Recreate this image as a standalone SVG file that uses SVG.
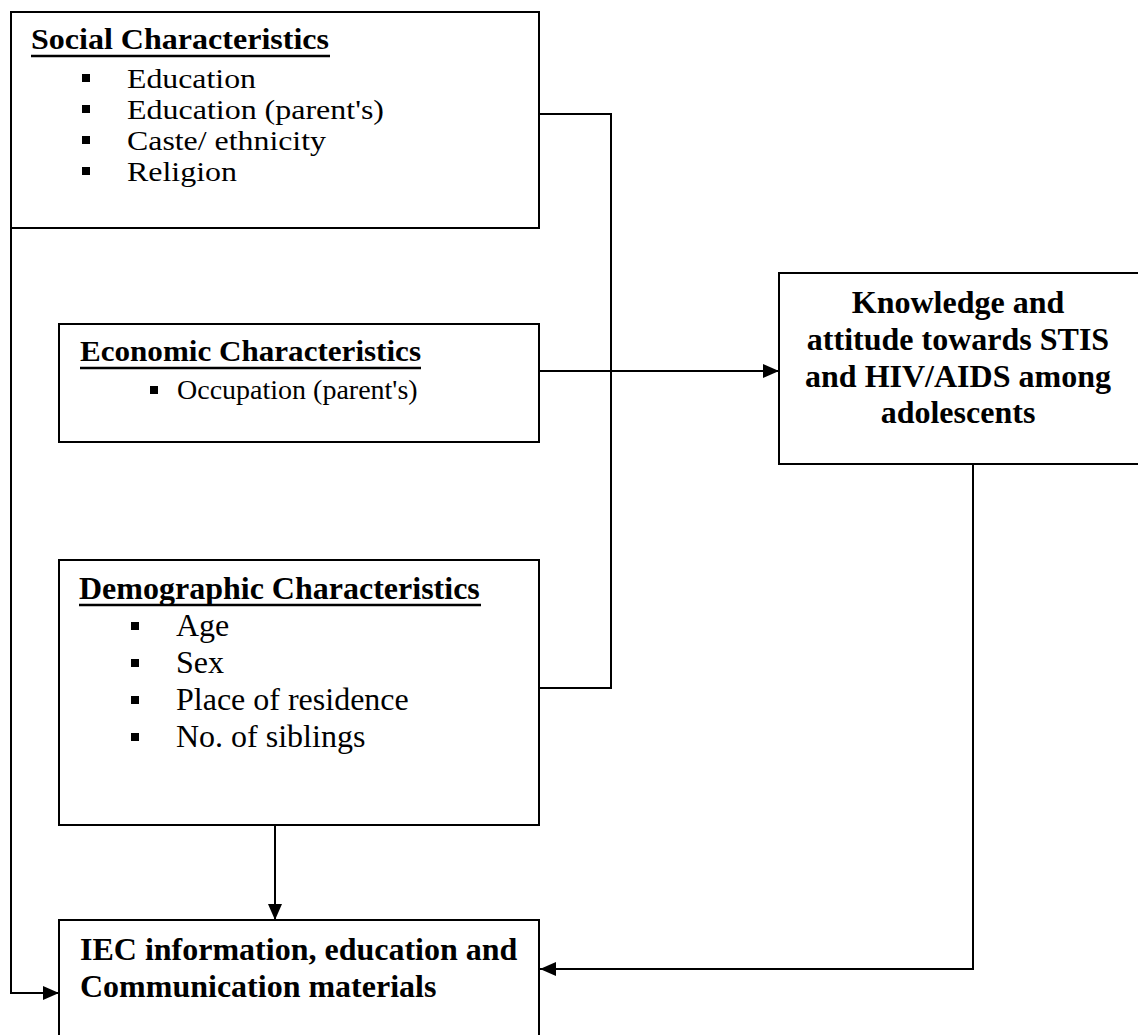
<svg xmlns="http://www.w3.org/2000/svg" width="1138" height="1035" viewBox="0 0 1138 1035">
<defs>
<style>
.box{fill:#fff;stroke:#000;stroke-width:2}
.ln{fill:none;stroke:#000;stroke-width:2}
.t{font-family:"Liberation Serif","Times New Roman",serif;font-size:32px;fill:#000}
.s{font-size:27px}
.m{font-size:28px}
.h{font-size:30px}
.b{font-weight:bold}
.ul{stroke:#000;stroke-width:2.5}
.bul{fill:#000}
</style>
<marker id="arr" viewBox="0 0 16 14" refX="16" refY="7" markerWidth="16" markerHeight="14" markerUnits="userSpaceOnUse" orient="auto">
<path d="M0,0 L16,7 L0,14 z" fill="#000"/>
</marker>
</defs>
<rect width="1138" height="1035" fill="#fff"/>

<g id="connectors">
<path class="ln" d="M539,114 H611 V688 H539"/>
<path class="ln" d="M539,371 H779" marker-end="url(#arr)"/>
<path class="ln" d="M973,464 V969 H540" marker-end="url(#arr)"/>
<path class="ln" d="M275,825 V920" marker-end="url(#arr)"/>
<path class="ln" d="M11,228 V993 H59" marker-end="url(#arr)"/>
</g>

<g id="social">
<rect class="box" x="11" y="12" width="528" height="216"/>
<text class="t h b" x="31" y="49" textLength="298" lengthAdjust="spacingAndGlyphs">Social Characteristics</text>
<line class="ul" x1="31" y1="56" x2="330" y2="56"/>
<rect class="bul" x="82" y="74" width="8" height="8"/>
<text class="t s" x="127" y="88" textLength="129" lengthAdjust="spacingAndGlyphs">Education</text>
<rect class="bul" x="82" y="105" width="8" height="8"/>
<text class="t s" x="127" y="119" textLength="257" lengthAdjust="spacingAndGlyphs">Education (parent's)</text>
<rect class="bul" x="82" y="136" width="8" height="8"/>
<text class="t s" x="127" y="150" textLength="199" lengthAdjust="spacingAndGlyphs">Caste/ ethnicity</text>
<rect class="bul" x="82" y="167" width="8" height="8"/>
<text class="t s" x="127" y="181" textLength="110" lengthAdjust="spacingAndGlyphs">Religion</text>
</g>

<g id="economic">
<rect class="box" x="59" y="324" width="480" height="118"/>
<text class="t h b" x="80" y="361" textLength="341" lengthAdjust="spacingAndGlyphs">Economic Characteristics</text>
<line class="ul" x1="80" y1="368" x2="421" y2="368"/>
<rect class="bul" x="150" y="386" width="8" height="8"/>
<text class="t m" x="177" y="399">Occupation (parent's)</text>
</g>

<g id="demographic">
<rect class="box" x="59" y="560" width="480" height="265"/>
<text class="t b" x="79" y="599">Demographic Characteristics</text>
<line class="ul" x1="79" y1="605" x2="481" y2="605"/>
<rect class="bul" x="131" y="622" width="8" height="8"/>
<text class="t" x="176" y="636">Age</text>
<rect class="bul" x="131" y="659" width="8" height="8"/>
<text class="t" x="176" y="673">Sex</text>
<rect class="bul" x="131" y="696" width="8" height="8"/>
<text class="t" x="176" y="710">Place of residence</text>
<rect class="bul" x="131" y="733" width="8" height="8"/>
<text class="t" x="176" y="747">No. of siblings</text>
</g>

<g id="knowledge">
<rect class="box" x="779" y="273" width="370" height="191"/>
<text class="t b" text-anchor="middle" x="958" y="313">Knowledge and</text>
<text class="t b" text-anchor="middle" x="958" y="350">attitude towards STIS</text>
<text class="t b" text-anchor="middle" x="958" y="387">and HIV/AIDS among</text>
<text class="t b" text-anchor="middle" x="958" y="423">adolescents</text>
</g>

<g id="iec">
<rect class="box" x="59" y="920" width="480" height="130"/>
<text class="t b" x="80" y="960">IEC information, education and</text>
<text class="t b" x="80" y="997">Communication materials</text>
</g>
</svg>
